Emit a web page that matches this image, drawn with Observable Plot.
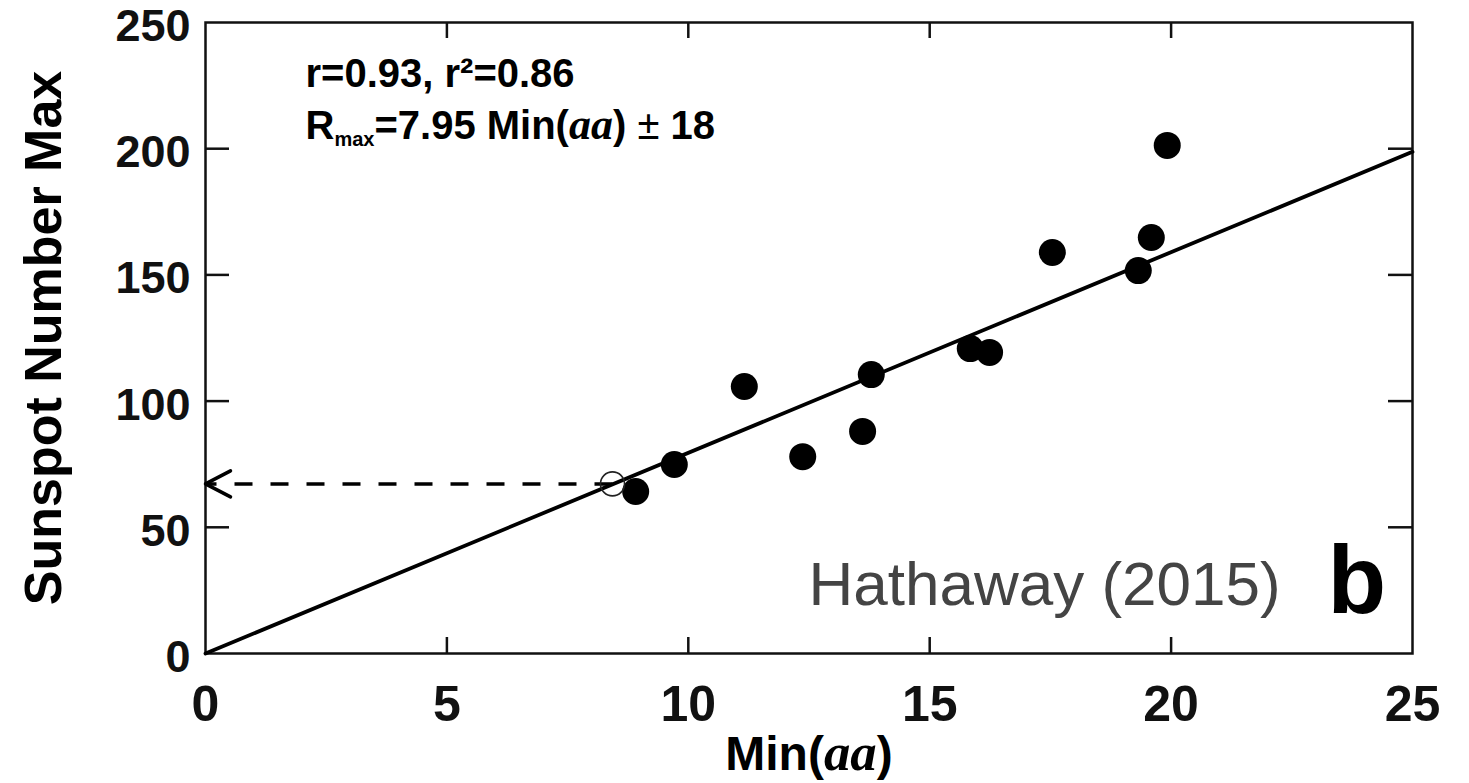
<!DOCTYPE html>
<html>
<head>
<meta charset="utf-8">
<script src="https://cdn.jsdelivr.net/npm/d3@7"></script>
<script src="https://cdn.jsdelivr.net/npm/@observablehq/plot@0.6"></script>
<style>
  html, body { margin: 0; padding: 0; background: #fff; }
  #chart { width: 1469px; height: 783px; }
</style>
</head>
<body>
<div id="chart"></div>
<script>
// ---- data ----
const minAA      = [8.91, 9.71, 11.16, 12.37, 13.61, 13.79, 15.84, 16.24, 17.54, 19.32, 19.59, 19.92];
const sunspotMax = [64.2, 74.9, 105.8, 78.0, 88.0, 110.5, 120.8, 119.3, 158.9, 151.7, 164.8, 201.3];
const predMinAA  = [8.43];
const predMax    = [67.2];
const fitSlope   = 7.95;
const xDomain    = [0, 25];
const yDomain    = [0, 250];
const xTicks     = [0, 5, 10, 15, 20, 25];
const yTicks     = [0, 50, 100, 150, 200, 250];
const statsText  = "r=0.93, r²=0.86";
const fitText    = "Rmax=7.95 Min(aa) ± 18";
const sourceText = "Hathaway (2015)";
const panelText  = "b";
const xLabel     = "Min(aa)";
const yLabel     = "Sunspot Number Max";

// ---- derived tables ----
const points    = minAA.map((x, i) => ({x, y: sunspotMax[i]}));
const fitLine   = xDomain.map(x => ({x, y: fitSlope * x}));
const predicted = predMinAA.map((x, i) => ({x, y: predMax[i]}));

const W = 1469, H = 783, mL = 205, mR = 57, mT = 22, mB = 130;
const pxPerX = (W - mL - mR) / (xDomain[1] - xDomain[0]);
const pxPerY = (H - mT - mB) / (yDomain[1] - yDomain[0]);
const yTickLen = 24 / pxPerX;   // horizontal ticks on left/right frame
const xTickLen = 16 / pxPerY;   // vertical ticks on top/bottom frame
const ink = "#111";

const chevron = {
  draw(ctx, l) { ctx.moveTo(-13, l); ctx.lineTo(0, 0); ctx.lineTo(13, l); }
};

const svg = Plot.plot({
  width: W, height: H,
  marginLeft: mL, marginRight: mR, marginTop: mT, marginBottom: mB,
  style: {fontFamily: "'Liberation Sans', Arial, Helvetica, sans-serif", fontWeight: "bold", color: ink, background: "#fff", overflow: "visible"},
  x: {domain: xDomain},
  y: {domain: yDomain},
  marks: [
    Plot.axisX({ticks: xTicks, tickSize: 0, tickPadding: 32, fontSize: 50, label: null, tickFormat: d => String(d)}),
    Plot.axisY({ticks: yTicks, tickSize: 0, tickPadding: 15, fontSize: 45, dy: 4, label: null, tickFormat: d => String(d)}),
    // inward ticks on all four sides
    Plot.ruleY(yTicks.slice(1, -1), {x1: xDomain[0], x2: xDomain[0] + yTickLen, stroke: ink, strokeWidth: 2.5}),
    Plot.ruleY(yTicks.slice(1, -1), {x1: xDomain[1] - yTickLen, x2: xDomain[1], stroke: ink, strokeWidth: 2.5}),
    Plot.ruleX(xTicks.slice(1, -1), {y1: yDomain[0], y2: yDomain[0] + xTickLen, stroke: ink, strokeWidth: 2.5}),
    Plot.ruleX(xTicks.slice(1, -1), {y1: yDomain[1] - xTickLen, y2: yDomain[1], stroke: ink, strokeWidth: 2.5}),
    Plot.frame({stroke: ink, strokeWidth: 2.5}),
    // regression line
    Plot.line(fitLine, {x: "x", y: "y", stroke: "#000", strokeWidth: 3.8}),
    // dashed projection to the y axis
    Plot.link(predicted, {x1: "x", y1: "y", x2: xDomain[0], y2: "y", stroke: "#000", strokeWidth: 3.5, strokeDasharray: "18,18"}),
    Plot.vector(predicted, {x: xDomain[0], y: "y", length: 25, rotate: -90, anchor: "start", shape: chevron, stroke: "#000", strokeWidth: 3.5}),
    // observations
    Plot.dot(points, {x: "x", y: "y", r: 13.5, fill: "#000", stroke: "none"}),
    Plot.dot(predicted, {x: "x", y: "y", r: 12, fill: "none", stroke: "#222", strokeWidth: 1.6}),
    // texts
    Plot.text([statsText], {frameAnchor: "top-left", dx: 100, dy: 52, textAnchor: "start", lineAnchor: "middle", fontSize: 40, fontWeight: "bold", fill: "#000"}),
    Plot.text([fitText], {frameAnchor: "top-left", dx: 100, dy: 104, textAnchor: "start", lineAnchor: "middle", fontSize: 40, fontWeight: "bold", fill: "#000"}),
    Plot.text([sourceText], {frameAnchor: "top-left", dx: 603, dy: 563, textAnchor: "start", lineAnchor: "middle", fontSize: 62, fontWeight: "normal", fill: "#444"}),
    Plot.text([panelText], {frameAnchor: "top-left", dx: 1122, dy: 560, textAnchor: "start", lineAnchor: "middle", fontSize: 96, fontWeight: "bold", fill: "#000"}),
    Plot.text([xLabel], {frameAnchor: "bottom", dy: 101, textAnchor: "middle", lineAnchor: "middle", fontSize: 48, fontWeight: "bold", fill: "#000"}),
    Plot.text([yLabel], {frameAnchor: "left", dx: -161, rotate: -90, textAnchor: "middle", lineAnchor: "middle", fontSize: 52, fontWeight: "bold", fill: "#000"})
  ]
});

// rich text (sub/superscripts and italic serif) on the real text elements
const NS = "http://www.w3.org/2000/svg";
function rich(el, parts) {
  el.textContent = "";
  for (const p of parts) {
    const ts = document.createElementNS(NS, "tspan");
    ts.textContent = p.t;
    for (const [k, v] of Object.entries(p.a || {})) ts.setAttribute(k, v);
    el.appendChild(ts);
  }
}
const serifItalic = {"font-family": "'Liberation Serif', 'Times New Roman', serif", "font-style": "italic", "font-weight": "bold", "font-size": "1.1em"};
d3.select(svg).selectAll("text").each(function() {
  const t = this.textContent;
  if (t === xLabel) {
    rich(this, [{t: "Min("}, {t: "aa", a: serifItalic}, {t: ")"}]);
  } else if (t === fitText) {
    rich(this, [
      {t: "R"},
      {t: "max", a: {"font-size": 20, dy: 7}},
      {t: "=7.95 Min(", a: {dy: -7}},
      {t: "aa", a: serifItalic},
      {t: ") "},
      {t: "±", a: {"font-weight": "normal"}},
      {t: " 18"}
    ]);
  }
});

document.getElementById("chart").appendChild(svg);
</script>
</body>
</html>
